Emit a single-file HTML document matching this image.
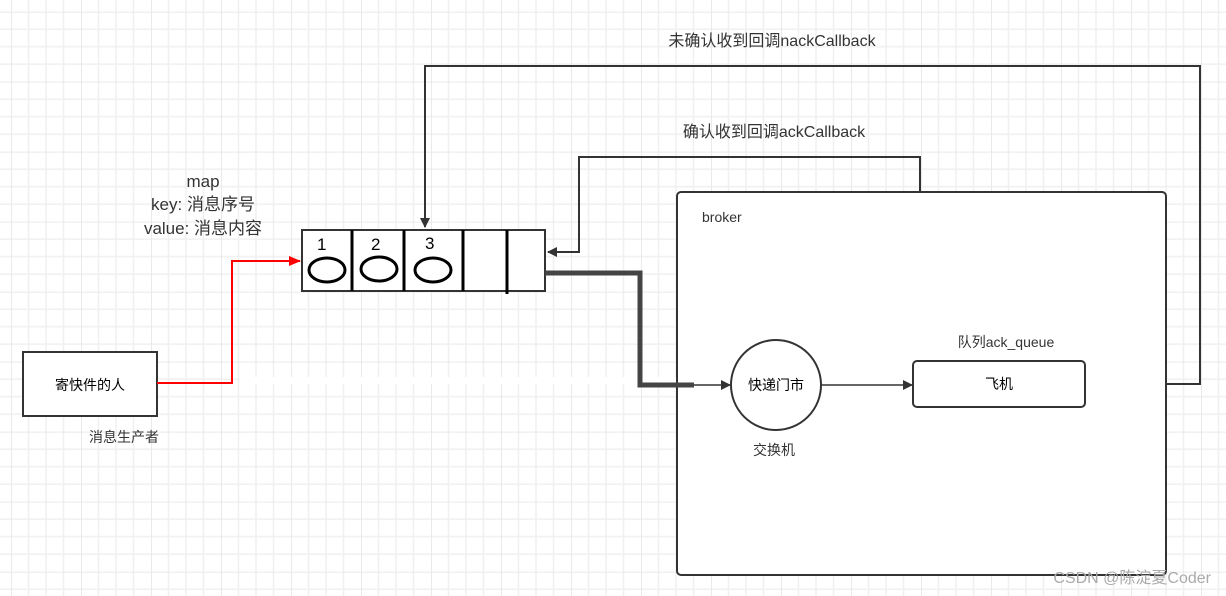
<!DOCTYPE html>
<html><head><meta charset="utf-8"><style>
body{margin:0;background:#fff}
svg{display:block;font-family:"Liberation Sans","Noto Sans CJK SC",sans-serif}
</style></head><body>
<svg width="1226" height="596" viewBox="0 0 1226 596" xmlns="http://www.w3.org/2000/svg">
<defs>
<pattern id="g" x="11" y="11.7" width="70" height="70" patternUnits="userSpaceOnUse">
<path d="M17.5 0V70M35 0V70M52.5 0V70M0 17.5H70M0 35H70M0 52.5H70" stroke="#f0f0f0" stroke-width="1.5" fill="none"/>
<path d="M0 0V70M0 0H70" stroke="#e4e4e4" stroke-width="1.5" fill="none"/>
</pattern>
<marker id="a" markerWidth="10" markerHeight="10" refX="9" refY="5" orient="auto" markerUnits="userSpaceOnUse"><path d="M0 0L10 5L0 10z" fill="#333"/></marker>
<marker id="r" markerWidth="12" markerHeight="10" refX="11" refY="5" orient="auto" markerUnits="userSpaceOnUse"><path d="M0 0L12 5L0 10z" fill="#f00"/></marker>
</defs>
<rect width="1226" height="596" fill="url(#g)"/>
<rect x="240" y="377" width="450" height="7" fill="#fff"/>
<rect x="677" y="192" width="489" height="383" rx="4" fill="#fff" stroke="#333" stroke-width="2"/>
<text x="702" y="222" font-size="14" fill="#333">broker</text>
<rect x="302" y="230" width="243" height="61" fill="#fff" stroke="#333" stroke-width="2"/>
<path d="M352 230V291M404 230V291M463 230V291M507 230V294" stroke="#000" stroke-width="3"/>
<g fill="none" stroke="#000" stroke-width="3">
<ellipse cx="327" cy="270" rx="18" ry="12"/><ellipse cx="379" cy="269" rx="18" ry="12"/><ellipse cx="433" cy="270" rx="18" ry="12"/></g>
<g font-size="17" fill="#000"><text x="317" y="250">1</text><text x="371" y="250">2</text><text x="425" y="249">3</text></g>
<g font-size="17" fill="#333" text-anchor="middle"><text x="203" y="187">map</text><text x="203" y="210">key: 消息序号</text><text x="203" y="234">value: 消息内容</text></g>
<rect x="23" y="352" width="134" height="64" fill="#fff" stroke="#333" stroke-width="2"/>
<text x="90" y="390" font-size="14" text-anchor="middle">寄快件的人</text>
<text x="124" y="442" font-size="14" text-anchor="middle" fill="#333">消息生产者</text>
<path d="M157 383H232V261H300" fill="none" stroke="#f00" stroke-width="2" marker-end="url(#r)"/>
<path d="M545 273H640V385H694" fill="none" stroke="#444" stroke-width="5"/>
<path d="M694 385H730" fill="none" stroke="#333" stroke-width="1.5" marker-end="url(#a)"/>
<circle cx="776" cy="385" r="45" fill="#fff" stroke="#333" stroke-width="2"/>
<text x="776" y="390" font-size="14" text-anchor="middle">快递门市</text>
<text x="774" y="455" font-size="14" text-anchor="middle" fill="#333">交换机</text>
<path d="M821 385H912" fill="none" stroke="#333" stroke-width="1.5" marker-end="url(#a)"/>
<rect x="913" y="361" width="172" height="46" rx="4" fill="#fff" stroke="#333" stroke-width="2"/>
<text x="999" y="389" font-size="14" text-anchor="middle">飞机</text>
<text x="1006" y="347" font-size="14" text-anchor="middle" fill="#333">队列ack_queue</text>
<path d="M1166 384H1200V66H425V227" fill="none" stroke="#333" stroke-width="2" marker-end="url(#a)"/>
<text x="772" y="46" font-size="16" text-anchor="middle" fill="#333">未确认收到回调nackCallback</text>
<path d="M920 192V157H579V252H548" fill="none" stroke="#333" stroke-width="2" marker-end="url(#a)"/>
<text x="774" y="137" font-size="16" text-anchor="middle" fill="#333">确认收到回调ackCallback</text>
<text x="1211" y="583" font-size="16" text-anchor="end" fill="#aaa">CSDN @陈淀夏Coder</text>
</svg>
</body></html>
